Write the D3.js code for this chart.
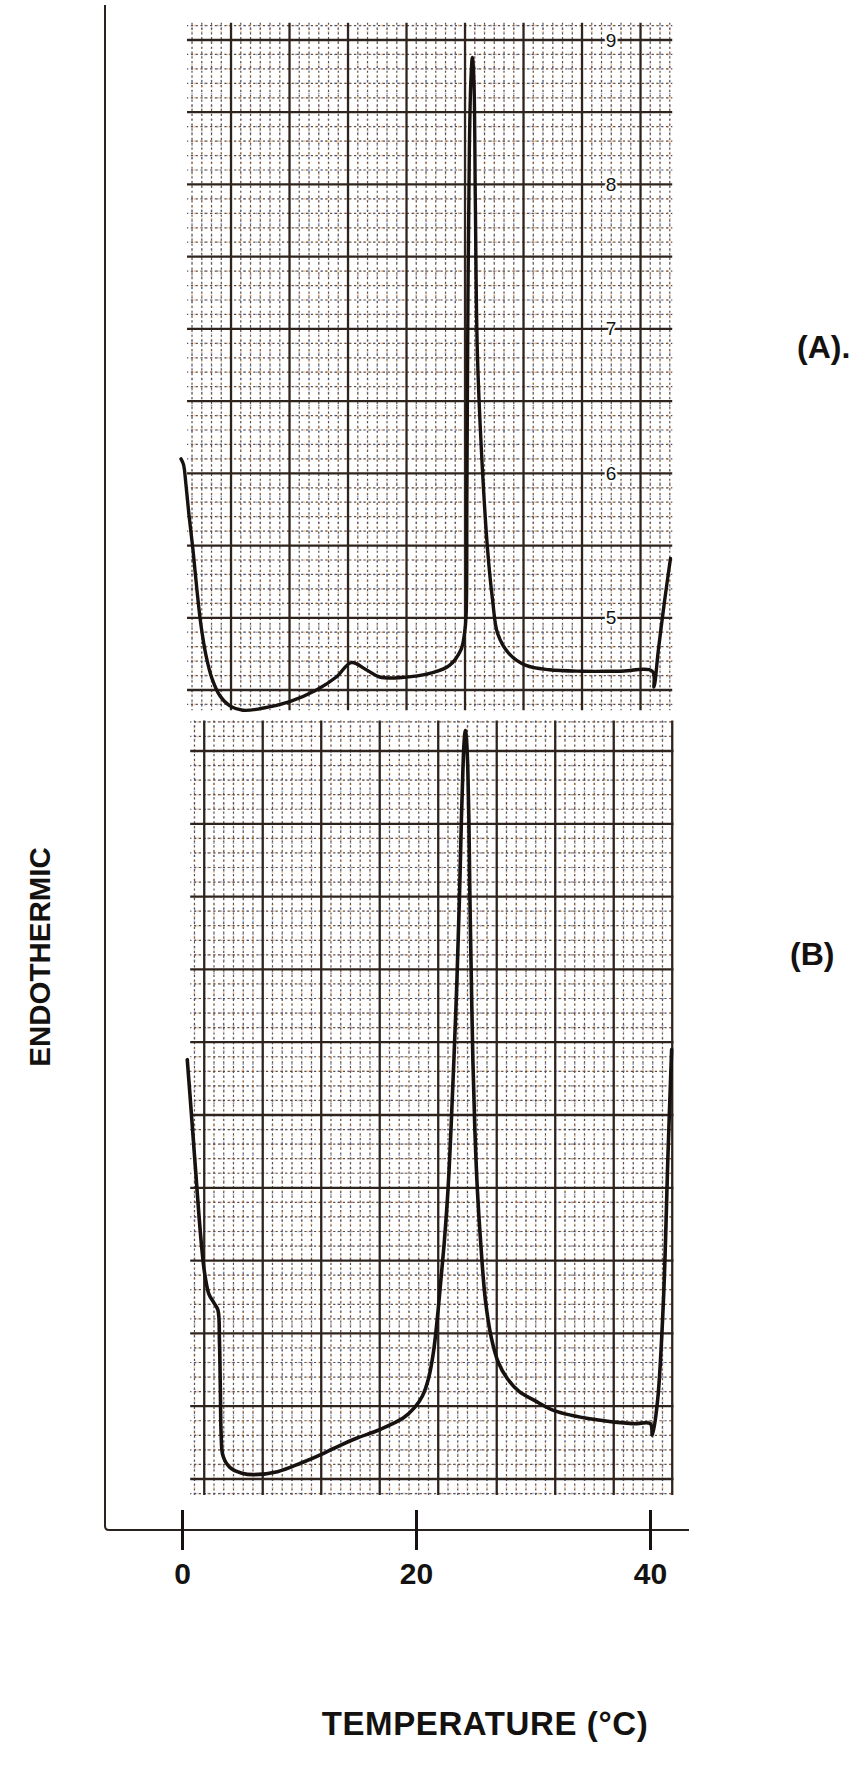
<!DOCTYPE html>
<html>
<head>
<meta charset="utf-8">
<script src="https://cdn.jsdelivr.net/npm/d3@7"></script>
<style>
  html, body { margin: 0; padding: 0; background: #fff; }
  svg { display: block; }
  text { font-family: "Liberation Sans", Arial, Helvetica, sans-serif; fill: #141210; }
</style>
</head>
<body>
<svg id="chart" width="867" height="1771"></svg>
<script>
// ---- DSC scans: temperature (°C) against recorder deflection ----
// Scan (A)
const tempA = [-0.085, 0.13, 0.34, 0.60, 0.94, 1.28, 1.62, 2.05, 2.56, 3.24, 4.09, 5.20, 6.65, 9.21, 11.49,
  13.19, 14.47, 15.75, 16.89, 18.59, 21.43, 22.86, 23.85, 24.14, 24.28, 24.35, 24.44, 24.56, 24.69, 24.82,
  24.95, 25.07, 25.24, 25.59, 26.12, 26.55, 26.98, 27.97, 29.40, 31.39, 34.23, 37.36, 40.20, 40.34, 40.72,
  41.25, 41.75];
const heatA = [6.10, 6.06, 5.92, 5.71, 5.47, 5.19, 4.95, 4.74, 4.58, 4.46, 4.39, 4.36, 4.37, 4.42, 4.50,
  4.59, 4.69, 4.64, 4.59, 4.585, 4.62, 4.67, 4.78, 4.89, 5.01, 5.82, 7.20, 8.24, 8.72, 8.88,
  8.72, 7.89, 6.85, 6.16, 5.47, 5.12, 4.89, 4.75, 4.67, 4.64, 4.63, 4.63, 4.63, 4.52, 4.78,
  5.12, 5.41];

// Scan (B)
const tempB = [0.45, 0.68, 0.94, 1.19, 1.45, 1.71, 1.96, 2.30, 2.73, 3.07, 3.20, 3.28, 3.35, 3.50, 4.09,
  5.12, 6.14, 8.16, 10.18, 12.20, 13.48, 14.91, 16.93, 18.93, 19.87, 20.55, 21.07, 21.49, 21.83, 22.13,
  22.43, 22.73, 22.99, 23.24, 23.50, 23.71, 23.88, 24.01, 24.11, 24.22, 24.33, 24.43, 24.52, 24.61, 24.73,
  24.86, 25.03, 25.25, 25.54, 25.93, 26.44, 27.04, 27.80, 28.83, 30.11, 31.81, 35.14, 38.52, 40.03,
  40.20, 40.65, 41.15, 41.55, 41.85];
const heatB = [7.38, 7.14, 6.86, 6.59, 6.31, 6.07, 5.90, 5.77, 5.71, 5.66, 5.45, 5.11, 4.80, 4.66, 4.58,
  4.54, 4.53, 4.55, 4.61, 4.68, 4.73, 4.78, 4.84, 4.92, 4.99, 5.07, 5.19, 5.37, 5.61, 5.87,
  6.14, 6.48, 6.90, 7.38, 7.93, 8.48, 9.03, 9.37, 9.56, 9.64, 9.56, 9.37, 9.03, 8.48, 7.93,
  7.38, 6.90, 6.48, 6.11, 5.73, 5.47, 5.30, 5.19, 5.10, 5.04, 4.97, 4.91, 4.88, 4.88,
  4.80, 5.04, 5.73, 6.76, 7.45];

// Axis ticks and labels
const tempTicks = [0, 20, 40];
const chartScaleA = [9, 8, 7, 6, 5];
const panelNames = ["(A).", "(B)"];
const xTitle = "TEMPERATURE (°C)";
const yTitle = "ENDOTHERMIC";

// ---- layout ----
const svg = d3.select("#chart");
const x = d3.scaleLinear().domain([0, 40]).range([182, 650]);
const yA = d3.scaleLinear().domain([4.5, 9]).range([690, 40]);
const yB = d3.scaleLinear().domain([4.5, 9.5]).range([1479, 751]);

const ink = "#17120f";
const gridDark = "#2f241d";

// Chart-paper grid: majors every 5 °C / 0.5 units, 6 and 5 subdivisions
function drawPaper(y, tLo, tHi, vLo, vHi, tPhase) {
  const g = svg.append("g");
  const tStep = 5 / 6, vStep = 0.1;
  const kT0 = Math.ceil((tLo - tPhase) / tStep), kT1 = Math.floor((tHi - tPhase) / tStep);
  const minorT = d3.range(kT0, kT1 + 1).filter(k => k % 6 !== 0).map(k => tPhase + k * tStep);
  const majorT = d3.range(kT0, kT1 + 1).filter(k => k % 6 === 0).map(k => tPhase + k * tStep);
  const kV0 = Math.ceil(vLo / vStep - 1e-6), kV1 = Math.floor(vHi / vStep + 1e-6);
  const minorV = d3.range(kV0, kV1 + 1).filter(k => k % 5 !== 0).map(k => k * vStep);
  const majorV = d3.range(kV0, kV1 + 1).filter(k => k % 5 === 0).map(k => k * vStep);

  // printed dots of the paper: a dark dotted line with sparse coloured specks
  const layers = [
    { color: "#463a33", dash: "2.2,2.6", w: 1.2, op: 0.9, off: 0 },
    { color: "#d4892a", dash: "1.6,9.4", w: 1.6, op: 0.45, off: 3 },
    { color: "#3f63b8", dash: "1.6,11.4", w: 1.6, op: 0.5, off: 8 },
    { color: "#c0392b", dash: "1.4,17.6", w: 1.5, op: 0.3, off: 13 }
  ];
  layers.forEach(L => {
    g.selectAll(null).data(minorT).join("line")
      .attr("x1", d => x(d)).attr("x2", d => x(d))
      .attr("y1", y(vHi)).attr("y2", y(vLo))
      .attr("stroke", L.color).attr("stroke-width", L.w).attr("stroke-opacity", L.op)
      .attr("stroke-dasharray", L.dash).attr("stroke-dashoffset", L.off);
    g.selectAll(null).data(minorV).join("line")
      .attr("x1", x(tLo)).attr("x2", x(tHi))
      .attr("y1", d => y(d)).attr("y2", d => y(d))
      .attr("stroke", L.color).attr("stroke-width", L.w).attr("stroke-opacity", L.op)
      .attr("stroke-dasharray", L.dash).attr("stroke-dashoffset", L.off + 1);
  });
  g.selectAll(null).data(majorT).join("line")
    .attr("x1", d => x(d)).attr("x2", d => x(d))
    .attr("y1", y(vHi)).attr("y2", y(vLo))
    .attr("stroke", gridDark).attr("stroke-width", 2.3);
  g.selectAll(null).data(majorV).join("line")
    .attr("x1", x(tLo)).attr("x2", x(tHi))
    .attr("y1", d => y(d)).attr("y2", d => y(d))
    .attr("stroke", gridDark).attr("stroke-width", 2.3);
  return g;
}

drawPaper(yA, 0.43, 41.9, 4.36, 9.12, 4.19);
drawPaper(yB, 0.7, 42.0, 4.39, 9.71, 1.9);

// Printed chart scale of scan (A)
svg.append("g").selectAll("text").data(chartScaleA).join("text")
  .attr("x", 611).attr("y", d => yA(d))
  .attr("text-anchor", "middle").attr("dominant-baseline", "central")
  .attr("font-size", 19)
  .attr("stroke", "#fff").attr("stroke-width", 4).attr("paint-order", "stroke")
  .text(d => d);

// Traces
const line = y => d3.line().x(d => x(d[0])).y(d => y(d[1])).curve(d3.curveCatmullRom.alpha(0.5));
svg.append("path").datum(d3.zip(tempA, heatA))
  .attr("d", line(yA)).attr("fill", "none").attr("stroke", ink)
  .attr("stroke-width", 3.4).attr("stroke-linejoin", "round").attr("stroke-linecap", "round");
svg.append("path").datum(d3.zip(tempB, heatB))
  .attr("d", line(yB)).attr("fill", "none").attr("stroke", ink)
  .attr("stroke-width", 3.6).attr("stroke-linejoin", "round").attr("stroke-linecap", "round");

// Frame: ordinate line and temperature axis
const axisY = 1530;
svg.append("path")
  .attr("d", `M105,5 L105,${axisY - 4} Q105,${axisY} 109,${axisY} L689,${axisY}`)
  .attr("fill", "none").attr("stroke", "#2a221e").attr("stroke-width", 2);

const axis = d3.axisBottom(x).tickValues(tempTicks).tickSize(0).tickPadding(0).tickFormat(d3.format("d"));
const ag = svg.append("g").attr("transform", `translate(0,${axisY})`).call(axis);
ag.select(".domain").remove();
ag.selectAll(".tick line").attr("y1", -20).attr("y2", 20).attr("stroke", ink).attr("stroke-width", 3);
ag.selectAll(".tick text")
  .attr("y", 54).attr("dy", null)
  .attr("font-size", 30).attr("font-weight", "bold")
  .attr("font-family", "\"Liberation Sans\", Arial, sans-serif").attr("fill", "#141210");

// Titles
svg.append("text").attr("x", 485).attr("y", 1735)
  .attr("text-anchor", "middle").attr("font-size", 33).attr("font-weight", "bold")
  .attr("letter-spacing", 0.6)
  .text(xTitle);
svg.append("text").attr("transform", "translate(50,957) rotate(-90)")
  .attr("text-anchor", "middle").attr("font-size", 29.5).attr("font-weight", "bold")
  .text(yTitle);

// Panel labels
svg.append("text").attr("x", 797).attr("y", 358)
  .attr("font-size", 32).attr("font-weight", "bold").text(panelNames[0]);
svg.append("text").attr("x", 790).attr("y", 965)
  .attr("font-size", 32).attr("font-weight", "bold").text(panelNames[1]);
</script>
</body>
</html>
